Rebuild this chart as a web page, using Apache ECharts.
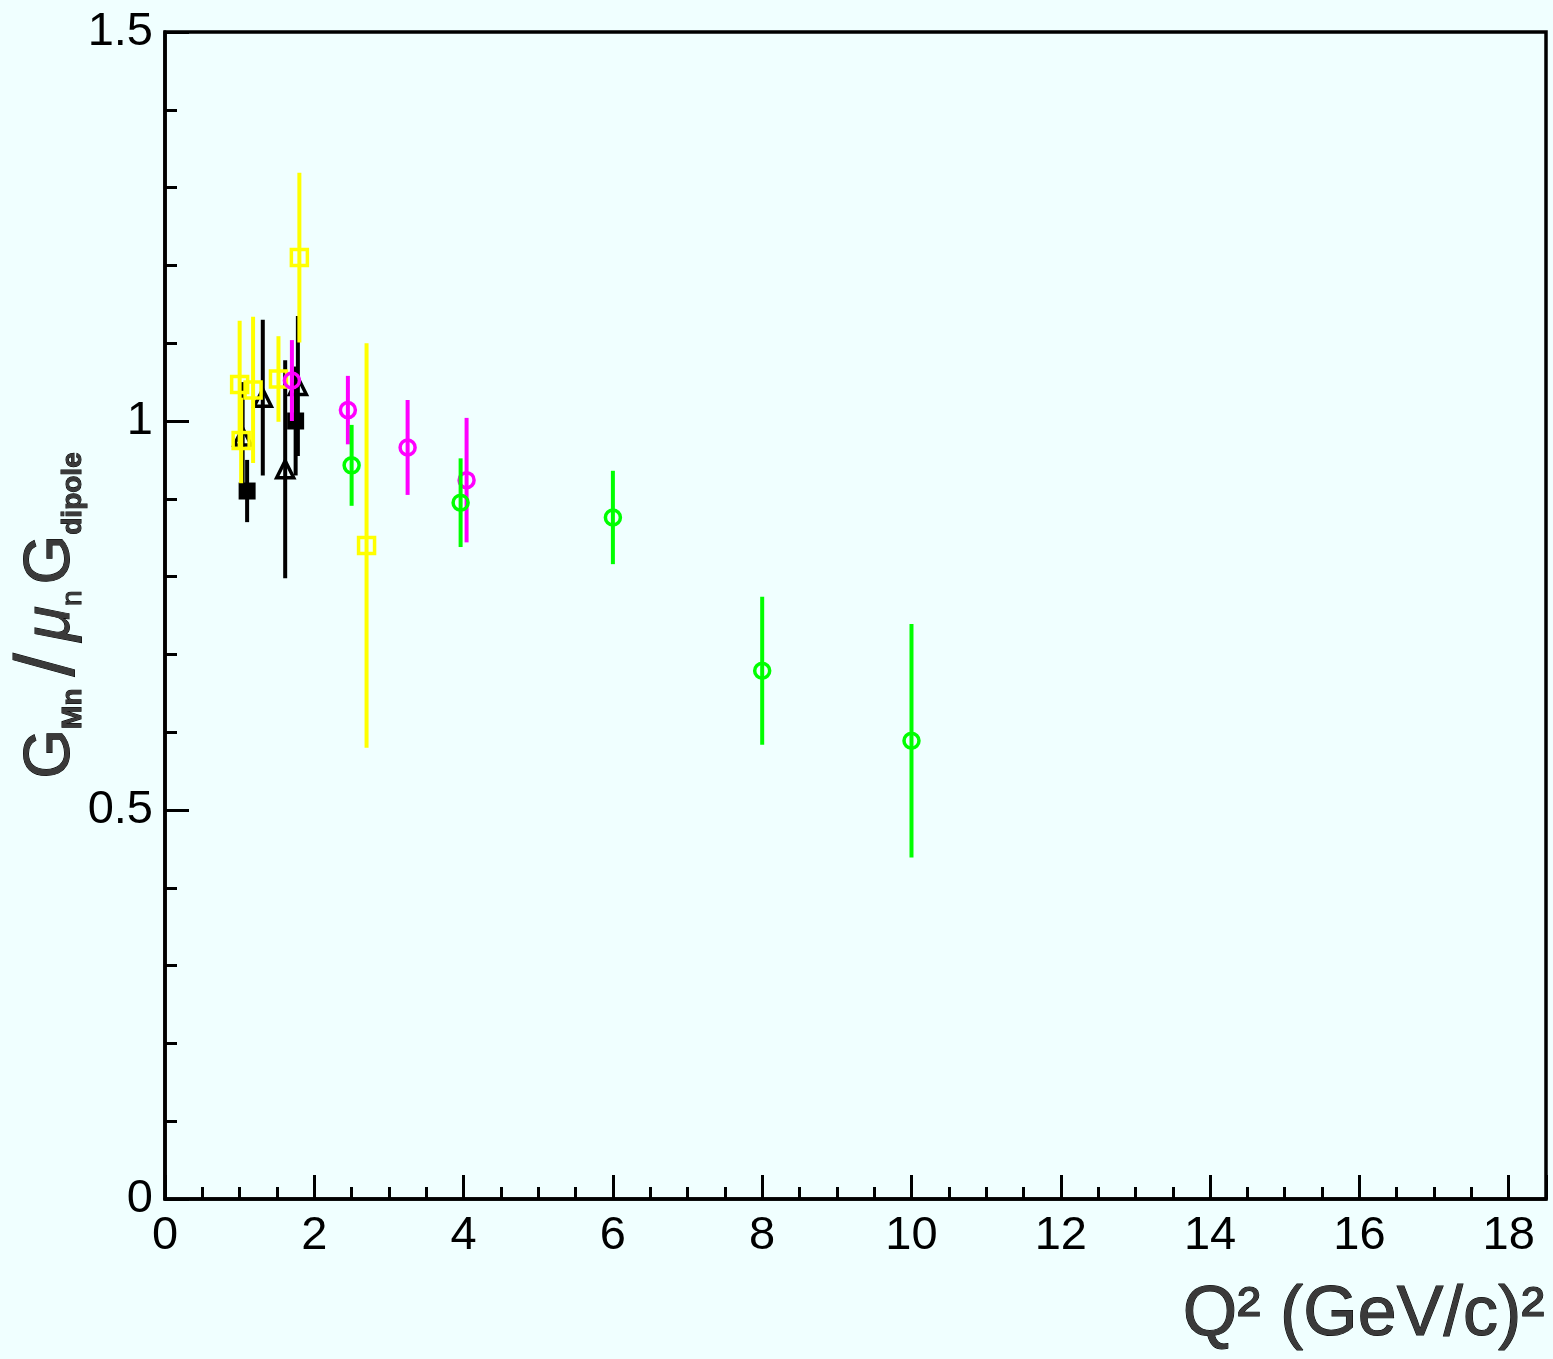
<!DOCTYPE html>
<html>
<head>
<meta charset="utf-8">
<title>G_Mn / mu_n G_dipole vs Q^2</title>
<script src="https://cdn.jsdelivr.net/npm/echarts@6/dist/echarts.min.js"></script>
<style>
  html, body { margin: 0; padding: 0; background: #f0ffff; }
  #chart { width: 1553px; height: 1359px; }
</style>
</head>
<body>
<div id="chart"></div>
<script>
// Black filled squares
const blkSqX   = [1.10, 1.75];
const blkSqY   = [0.910, 1.000];
const blkSqErr = [0.040, 0.070];

// Black open triangles
const blkTriX   = [1.04, 1.31, 1.61, 1.78];
const blkTriY   = [0.980, 1.030, 0.938, 1.045];
const blkTriErr = [0.070, 0.100, 0.140, 0.090];

// Yellow open squares
const ylwX   = [1.00, 1.02, 1.18, 1.52, 1.80, 2.70];
const ylwY   = [1.047, 0.975, 1.040, 1.054, 1.210, 0.840];
const ylwErr = [0.082, 0.055, 0.094, 0.055, 0.109, 0.260];

// Magenta open circles
const magX   = [1.70, 2.45, 3.25, 4.04];
const magY   = [1.052, 1.014, 0.966, 0.924];
const magErr = [0.052, 0.044, 0.061, 0.080];

// Green open circles
const grnX   = [2.50, 3.96, 6.00, 8.00, 10.00];
const grnY   = [0.943, 0.895, 0.876, 0.679, 0.589];
const grnErr = [0.052, 0.057, 0.060, 0.095, 0.150];

// Axis tick values
const xTicks = [0, 2, 4, 6, 8, 10, 12, 14, 16, 18];
const yTicks = [0, 0.5, 1, 1.5];

const FONT = 'Liberation Sans, Arial, Helvetica, sans-serif';

function errorBars(xs, ys, errs, color, z) {
  return {
    type: 'custom',
    z: z,
    silent: true,
    data: xs.map((x, i) => [x, ys[i] - errs[i], ys[i] + errs[i]]),
    renderItem: function (params, api) {
      const p1 = api.coord([api.value(0), api.value(1)]);
      const p2 = api.coord([api.value(0), api.value(2)]);
      return {
        type: 'line',
        shape: { x1: p1[0], y1: p1[1], x2: p2[0], y2: p2[1] },
        style: { stroke: color, lineWidth: 4 }
      };
    }
  };
}

function markers(xs, ys, symbol, size, color, filled, z) {
  return {
    type: 'scatter',
    z: z,
    silent: true,
    symbol: symbol,
    symbolSize: size,
    data: xs.map((x, i) => [x, ys[i]]),
    itemStyle: filled
      ? { color: color, borderWidth: 0, opacity: 1 }
      : { color: 'rgba(0,0,0,0)', borderColor: color, borderWidth: 3.5, opacity: 1 }
  };
}

const chart = echarts.init(document.getElementById('chart'), null, { renderer: 'canvas' });

const titleColor = '#3a3a3a';
const titleBorder = { textBorderColor: '#000', textBorderWidth: 1 };

chart.setOption({
  backgroundColor: '#f0ffff',
  animation: false,
  grid: {
    left: 165, right: 7, top: 32, bottom: 160,
    containLabel: false,
    outerBoundsMode: 'none',
    show: true, borderColor: '#000', borderWidth: 3.5, backgroundColor: 'transparent'
  },
  xAxis: {
    type: 'value',
    min: 0, max: 18.5, interval: 2,
    axisLine: { show: true, onZero: false, lineStyle: { color: '#000', width: 3.5 } },
    axisTick: { show: true, inside: true, length: 24, lineStyle: { color: '#000', width: 3 } },
    minorTick: { show: true, splitNumber: 4, length: 12, lineStyle: { color: '#000', width: 3 } },
    splitLine: { show: false },
    axisLabel: {
      fontFamily: FONT, fontSize: 47, color: '#000', margin: 14,
      showMaxLabel: false,
      formatter: v => (xTicks.indexOf(v) >= 0 ? String(v) : '')
    }
  },
  yAxis: {
    type: 'value',
    min: 0, max: 1.5, interval: 0.5,
    axisLine: { show: true, onZero: false, lineStyle: { color: '#000', width: 3.5 } },
    axisTick: { show: true, inside: true, length: 24, lineStyle: { color: '#000', width: 3 } },
    minorTick: { show: true, splitNumber: 5, length: 12, lineStyle: { color: '#000', width: 3 } },
    splitLine: { show: false },
    axisLabel: {
      fontFamily: FONT, fontSize: 47, color: '#000', margin: 12,
      formatter: v => (yTicks.indexOf(v) >= 0 ? String(v) : '')
    },
    name: '{G|G}{s|Mn}{sl|/}{mu|μ}{n|n}{G|G}{s|dipole}',
    nameLocation: 'middle',
    nameRotate: 90,
    nameGap: 78,
    nameMoveOverlap: false,
    nameTextStyle: {
      rich: {
        G:  { fontFamily: FONT, fontSize: 64, lineHeight: 72, color: titleColor, verticalAlign: 'middle', ...titleBorder },
        s:  { fontFamily: FONT, fontSize: 28, fontWeight: 'bold', lineHeight: 34, color: titleColor, verticalAlign: 'bottom', ...titleBorder },
        n:  { fontFamily: FONT, fontSize: 28, lineHeight: 34, color: titleColor, verticalAlign: 'bottom', padding: [0, 6, 0, 0], ...titleBorder },
        sl: { fontFamily: FONT, fontSize: 84, fontWeight: 'lighter', lineHeight: 72, color: titleColor, verticalAlign: 'middle', padding: [0, 12, 0, 12], ...titleBorder },
        mu: { fontFamily: FONT, fontSize: 64, fontStyle: 'italic', lineHeight: 72, color: titleColor, verticalAlign: 'middle', ...titleBorder }
      }
    }
  },
  graphic: [{
    type: 'text',
    right: 8,
    top: 1280,
    silent: true,
    style: {
      text: 'Q² (GeV/c)²',
      fontFamily: FONT,
      fontSize: 70,
      fill: titleColor,
      stroke: '#000',
      lineWidth: 1
    }
  }],
  series: [
    errorBars(blkSqX, blkSqY, blkSqErr, '#000', 2),
    errorBars(blkTriX, blkTriY, blkTriErr, '#000', 2),
    markers(blkSqX, blkSqY, 'rect', 17, '#000', true, 3),
    markers(blkTriX, blkTriY, 'triangle', 17, '#000', false, 3),
    errorBars(ylwX, ylwY, ylwErr, '#ffff00', 4),
    markers(ylwX, ylwY, 'rect', 16, '#ffff00', false, 5),
    errorBars(magX, magY, magErr, '#ff00ff', 6),
    markers(magX, magY, 'circle', 15, '#ff00ff', false, 7),
    errorBars(grnX, grnY, grnErr, '#00ff00', 8),
    markers(grnX, grnY, 'circle', 15, '#00ff00', false, 9)
  ]
});
</script>
</body>
</html>
